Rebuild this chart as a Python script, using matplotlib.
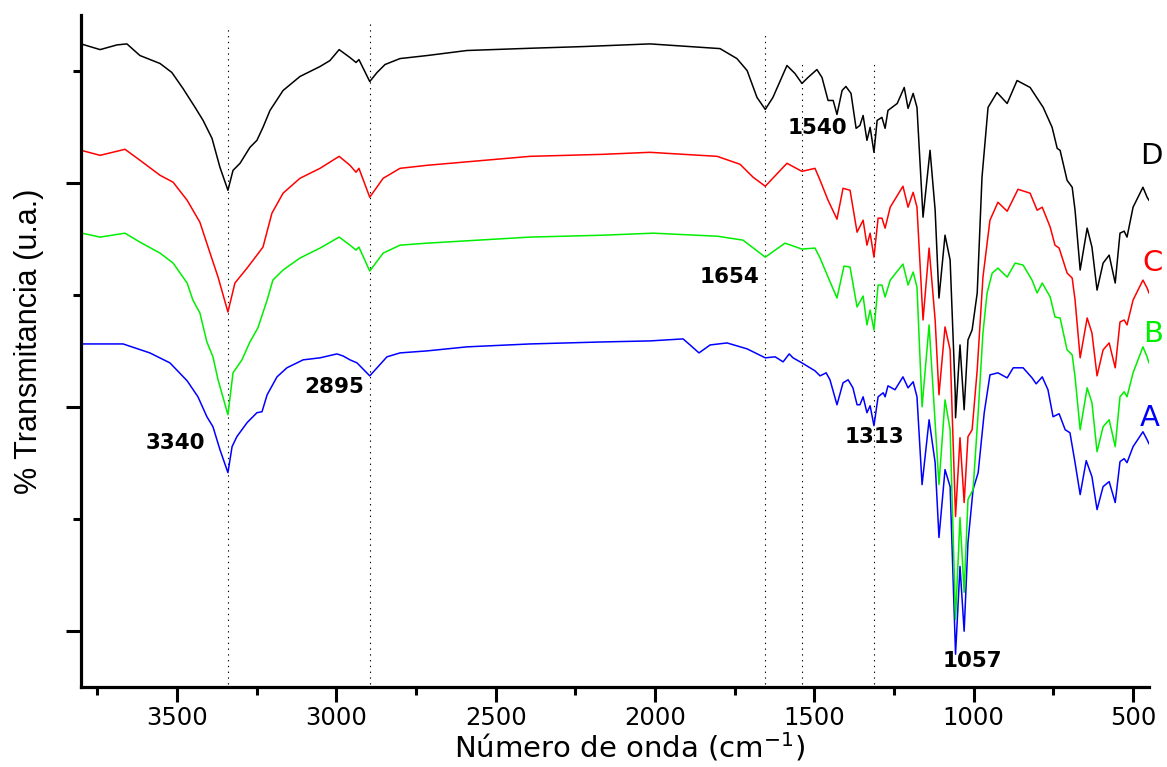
import matplotlib
matplotlib.use('Agg')
import matplotlib.pyplot as plt
from matplotlib.ticker import FixedLocator

# ---------------- data (wavenumber cm-1, transmittance a.u.) ----------------
wn_D = [3801, 3741, 3688, 3657, 3616, 3553, 3516, 3481, 3443, 3418, 3390, 3365, 3340, 3324,
        3302, 3271, 3249, 3230, 3208, 3167, 3114, 3051, 3020, 2991, 2957, 2938, 2929, 2895,
        2872, 2847, 2800, 2715, 2590, 2392, 2226, 2016, 1859, 1796, 1743, 1711, 1680, 1654,
        1630, 1586, 1561, 1539, 1520, 1492, 1476, 1457, 1441, 1429, 1413, 1401, 1385, 1369,
        1357, 1347, 1335, 1325, 1313, 1303, 1288, 1278, 1269, 1240, 1218, 1206, 1190, 1178,
        1159, 1137, 1121, 1109, 1090, 1074, 1058, 1057, 1043, 1030, 1018, 1005, 989, 974,
        955, 927, 895, 864, 823, 782, 754, 738, 729, 707, 691, 682, 666, 644, 629, 613, 594,
        575, 556, 541, 528, 519, 500, 469, 456, 450]
t_D = [57.42, 56.91, 57.33, 57.42, 56.38, 55.67, 54.87, 53.44, 51.75, 50.59, 48.99, 46.40,
       44.35, 46.13, 46.76, 48.18, 48.81, 49.97, 51.48, 53.26, 54.51, 55.40, 55.93, 56.91,
       56.20, 55.76, 56.02, 54.06, 54.87, 55.58, 56.11, 56.38, 56.83, 57.03, 57.18, 57.42,
       57.12, 57.00, 56.11, 55.04, 52.64, 51.57, 52.64, 55.49, 54.78, 53.89, 54.42, 55.13,
       54.42, 52.37, 52.37, 51.12, 53.26, 53.62, 53.00, 49.88, 50.14, 51.03, 48.81, 49.97,
       47.74, 50.59, 50.86, 49.88, 51.48, 52.10, 53.53, 51.66, 53.00, 51.75, 41.95, 47.92,
       42.57, 34.73, 40.34, 38.12, 26.27, 24.04, 30.54, 24.75, 30.99, 31.88, 35.18, 45.51,
       51.75, 53.08, 52.10, 54.15, 53.53, 51.75, 49.97, 48.09, 47.92, 45.24, 44.62, 42.57,
       37.23, 40.97, 39.28, 35.44, 37.85, 38.56, 36.07, 40.52, 40.70, 40.17, 42.84, 44.62,
       43.73, 43.46]

wn_C = [3801, 3741, 3663, 3616, 3553, 3512, 3468, 3428, 3396, 3371, 3340, 3318, 3280, 3249,
        3230, 3202, 3167, 3114, 3051, 2991, 2957, 2938, 2929, 2895, 2853, 2800, 2715, 2392,
        2163, 2016, 1805, 1733, 1692, 1654, 1586, 1539, 1498, 1482, 1457, 1429, 1410, 1388,
        1366, 1347, 1335, 1325, 1313, 1300, 1288, 1278, 1262, 1222, 1206, 1190, 1178, 1159,
        1140, 1121, 1109, 1090, 1074, 1057, 1043, 1030, 1018, 1005, 989, 971, 949, 924, 895,
        861, 823, 801, 785, 760, 745, 732, 707, 691, 682, 666, 644, 629, 613, 594, 575, 556,
        541, 528, 519, 500, 469, 456, 450]
t_C = [47.92, 47.47, 48.01, 47.03, 45.69, 45.07, 43.46, 41.50, 38.74, 36.60, 33.48, 36.07,
       37.40, 38.56, 39.28, 42.30, 44.09, 45.42, 46.31, 47.38, 46.58, 45.96, 46.31, 43.73,
       45.42, 46.31, 46.58, 47.38, 47.56, 47.74, 47.38, 46.67, 45.51, 44.71, 46.76, 46.04,
       46.31, 45.24, 43.46, 41.77, 44.53, 44.35, 40.61, 41.68, 39.45, 40.52, 38.38, 41.86,
       41.86, 40.97, 42.84, 44.71, 42.84, 44.17, 42.84, 32.77, 39.19, 32.77, 26.09, 32.15,
       30.10, 15.22, 22.26, 16.47, 22.35, 22.97, 28.32, 36.60, 41.68, 43.28, 42.48, 44.44,
       44.09, 42.57, 42.84, 41.06, 39.45, 39.19, 36.96, 36.51, 34.55, 29.39, 32.95, 31.61,
       27.78, 30.10, 30.72, 28.50, 32.59, 32.77, 32.33, 34.55, 36.33, 35.62, 35.18]

wn_B = [3798, 3741, 3663, 3616, 3553, 3512, 3468, 3450, 3428, 3406, 3387, 3371, 3340, 3324,
        3296, 3271, 3246, 3217, 3199, 3167, 3114, 3051, 2991, 2957, 2938, 2929, 2895, 2853,
        2800, 2715, 2392, 2163, 2006, 1805, 1724, 1654, 1592, 1539, 1498, 1482, 1457, 1429,
        1407, 1388, 1366, 1347, 1335, 1325, 1313, 1300, 1288, 1278, 1262, 1222, 1206, 1190,
        1178, 1162, 1140, 1109, 1090, 1074, 1057, 1043, 1030, 1018, 1002, 986, 971, 958, 942,
        924, 895, 870, 845, 817, 801, 785, 760, 745, 729, 707, 691, 682, 666, 644, 629, 613,
        594, 575, 556, 541, 528, 519, 500, 469, 456, 450]
t_B = [40.52, 40.17, 40.52, 39.72, 38.74, 37.85, 36.07, 34.55, 33.40, 30.81, 29.48, 27.43,
       24.31, 28.05, 29.21, 30.81, 32.06, 34.55, 36.33, 37.23, 38.30, 39.19, 40.17, 39.45,
       39.01, 39.28, 37.14, 38.74, 39.45, 39.63, 40.17, 40.34, 40.52, 40.25, 39.90, 38.38,
       39.63, 39.10, 39.19, 38.30, 36.60, 34.73, 37.58, 37.49, 33.93, 34.91, 32.33, 33.66,
       31.88, 35.89, 35.89, 34.82, 36.33, 37.76, 35.89, 37.05, 35.71, 25.02, 32.33, 18.07,
       25.64, 22.97, 6.04, 15.13, 8.45, 16.74, 17.63, 24.49, 31.61, 35.18, 36.96, 37.40,
       36.60, 37.85, 37.67, 36.33, 35.18, 36.07, 34.82, 33.04, 32.95, 30.10, 29.65, 27.69,
       22.97, 26.71, 25.38, 21.01, 23.24, 23.86, 21.46, 25.91, 26.36, 25.91, 28.05, 30.37,
       29.48, 28.94]

wn_A = [3798, 3669, 3585, 3522, 3468, 3434, 3406, 3387, 3365, 3340, 3327, 3312, 3280, 3249,
        3233, 3217, 3186, 3155, 3104, 3051, 2998, 2979, 2957, 2935, 2895, 2841, 2800, 2715,
        2590, 2392, 2163, 2016, 1912, 1890, 1862, 1827, 1774, 1711, 1654, 1623, 1598, 1579,
        1567, 1539, 1498, 1482, 1463, 1451, 1429, 1410, 1394, 1379, 1366, 1357, 1347, 1335,
        1325, 1313, 1300, 1284, 1278, 1269, 1247, 1222, 1206, 1190, 1178, 1162, 1140, 1121,
        1109, 1090, 1074, 1057, 1043, 1030, 1018, 1002, 986, 967, 949, 924, 895, 876, 845,
        817, 804, 785, 767, 751, 732, 713, 698, 682, 666, 647, 629, 613, 594, 575, 556, 541,
        528, 519, 500, 469, 456, 450]
t_A = [30.63, 30.63, 29.83, 28.94, 27.34, 25.91, 24.13, 23.24, 21.19, 19.14, 21.46, 22.35,
       23.60, 24.49, 24.58, 26.09, 27.69, 28.50, 29.21, 29.39, 29.74, 29.56, 29.21, 28.94,
       27.78, 29.48, 29.83, 30.01, 30.37, 30.63, 30.81, 30.90, 31.08, 30.54, 29.83, 30.54,
       30.72, 30.19, 29.39, 29.48, 29.03, 29.74, 29.39, 28.94, 28.23, 27.78, 28.05, 27.43,
       25.20, 27.16, 27.43, 26.71, 25.20, 25.20, 25.91, 24.49, 25.11, 23.33, 25.91, 26.27,
       25.91, 26.89, 26.54, 27.69, 26.71, 27.25, 25.91, 18.07, 23.86, 20.03, 13.35, 19.41,
       17.89, 2.93, 10.77, 4.98, 12.91, 17.63, 19.14, 24.49, 27.87, 28.05, 27.60, 28.50,
       28.50, 27.60, 27.07, 27.69, 26.54, 24.13, 24.40, 22.97, 22.70, 20.03, 17.18, 20.21,
       18.78, 15.84, 17.89, 18.34, 16.47, 20.12, 20.39, 20.03, 21.46, 22.79, 22.08, 21.72]

series_names = ['A', 'B', 'C', 'D']
series_colors = ['#0000ff', '#00ee00', '#ff0000', '#000000']

# marked bands
band_wn = [3340, 2895, 1654, 1540, 1313]
band_top = [59.05, 59.23, 58.43, 55.93, 55.93]
band_labels = ['3340', '2895', '1654', '1540', '1313', '1057']
band_label_wn = [3506, 3007, 1768, 1492, 1313, 1005]
band_label_t = [21.81, 26.80, 36.60, 49.88, 22.35, 2.30]

series_label_wn = [447, 437, 440, 443]
series_label_t = [24.04, 31.52, 37.85, 47.38]

xticks_major = [3500, 3000, 2500, 2000, 1500, 1000, 500]
xticks_minor = [3750, 3250, 2750, 2250, 1750, 1250, 750]

# ---------------- figure ----------------
fig = plt.figure(figsize=(11.67, 7.67), dpi=100)
ax = fig.add_axes([81 / 1167, 80 / 767, 1068 / 1167, 672 / 767])

# dotted guide lines
ax.vlines(band_wn, 0.3, band_top, colors='black', linestyles=(0, (1.2, 4.0)),
          linewidth=0.8, zorder=1)

data = [(wn_A, t_A), (wn_B, t_B), (wn_C, t_C), (wn_D, t_D)]
for (w, t), c in zip(data, series_colors):
    ax.plot(w, t, color=c, linewidth=1.1, zorder=2)

for lab, w, t in zip(band_labels, band_label_wn, band_label_t):
    ax.text(w, t, lab, ha='center', va='center', fontsize=15.5, fontweight='bold',
            family='DejaVu Sans', color='black')

for lab, w, t, c in zip(series_names, series_label_wn, series_label_t, series_colors):
    ax.text(w, t, lab, ha='center', va='center', fontsize=21, family='DejaVu Sans',
            color=c, clip_on=False)

ax.set_xlim(3801, 450)
ax.set_ylim(0, 60)

ax.xaxis.set_major_locator(FixedLocator(xticks_major))
ax.xaxis.set_minor_locator(FixedLocator(xticks_minor))
ax.yaxis.set_major_locator(FixedLocator([5, 25, 45]))
ax.yaxis.set_minor_locator(FixedLocator([15, 35, 55]))
ax.set_yticklabels([])

for s in ['top', 'right']:
    ax.spines[s].set_visible(False)
for s in ['left', 'bottom']:
    ax.spines[s].set_linewidth(2.3)

ax.tick_params(axis='both', which='major', direction='out', length=10.5, width=2.2,
               labelsize=17.5, pad=3)
ax.tick_params(axis='both', which='minor', direction='out', length=5.5, width=2.2)
for lbl in ax.get_xticklabels():
    lbl.set_family('DejaVu Sans')

fig.text(629 / 1167, 1 - 747 / 767, 'Número de onda (cm$^{-1}$)', ha='center', va='center',
         fontsize=21, family='DejaVu Sans')
fig.text(29 / 1167, 1 - 341 / 767, '% Transmitancia (u.a.)', ha='center', va='center',
         rotation=90, fontsize=22, family='Liberation Sans')

fig.savefig('out.png', dpi=100)
